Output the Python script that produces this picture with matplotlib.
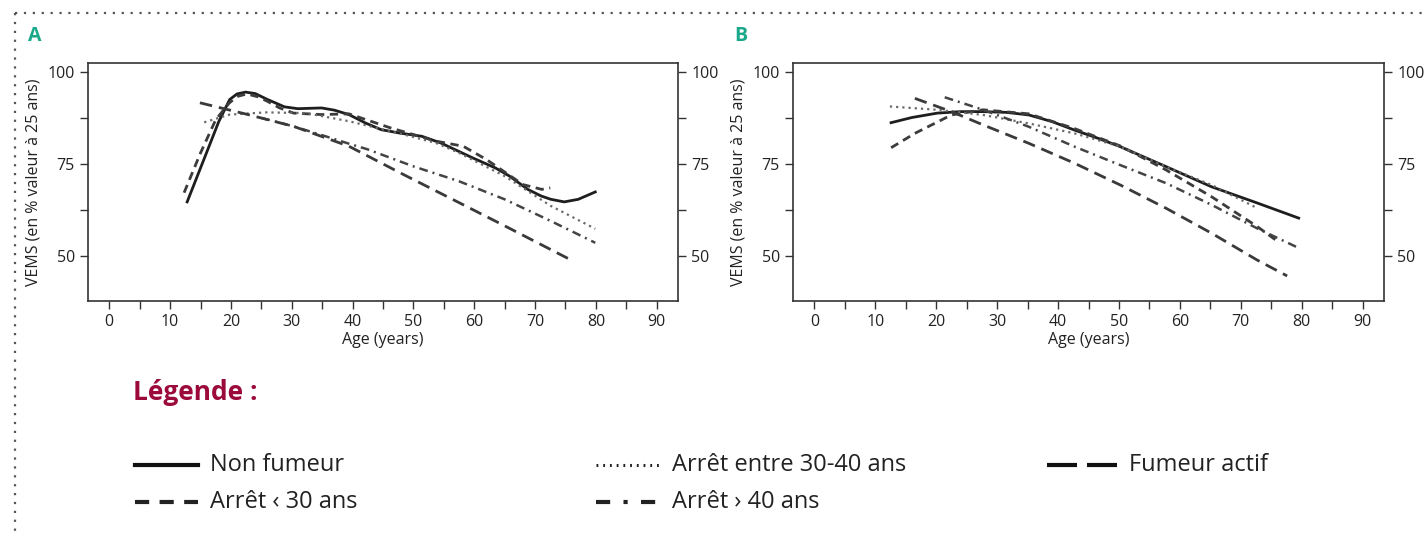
import numpy as np
import matplotlib
matplotlib.use("Agg")
import matplotlib.pyplot as plt
from matplotlib.lines import Line2D

plt.rcParams['font.family'] = ['Open Sans', 'DejaVu Sans']

# Panel A
a_non_x = [12.8, 15.5, 18.0, 19.8, 21.0, 22.4, 24.0, 26.0, 28.8, 31.0, 34.9, 37.0, 39.4, 42.0, 44.7, 47.7, 51.4, 54.5, 59.8, 63.5, 65.8, 68.8, 71.0, 72.6, 74.8, 77.1, 79.9]
a_non_y = [64.7, 76.0, 86.5, 92.5, 94.0, 94.5, 94.1, 92.5, 90.5, 90.0, 90.2, 89.6, 88.4, 86.2, 84.3, 83.4, 82.5, 80.7, 76.6, 73.9, 71.7, 68.1, 66.3, 65.4, 64.7, 65.4, 67.4]
a_30_x = [12.3, 15.0, 17.5, 19.7, 21.0, 22.6, 24.5, 26.0, 28.0, 30.3, 34.9, 39.4, 46.2, 53.7, 58.2, 62.0, 65.2, 68.0, 71.1, 72.5]
a_30_y = [67.2, 78.0, 87.0, 91.5, 93.3, 94.0, 93.2, 92.0, 90.2, 88.8, 88.4, 88.6, 84.8, 81.2, 79.8, 76.2, 72.6, 69.4, 68.1, 68.5]
a_3040_x = [15.6, 19.8, 25.8, 32.3, 39.4, 48.4, 53.7, 57.5, 65.0, 72.6, 79.9]
a_3040_y = [86.3, 88.4, 89.0, 88.8, 86.6, 83.0, 80.7, 78.0, 71.7, 63.6, 57.4]
a_40_x = [25.0, 30.3, 35.0, 39.4, 42.4, 49.9, 57.5, 65.0, 72.6, 79.9]
a_40_y = [87.5, 85.2, 82.8, 80.5, 79.0, 74.4, 70.3, 65.4, 59.5, 53.6]
a_act_x = [14.9, 22.8, 30.3, 39.4, 48.4, 57.5, 65.0, 76.3]
a_act_y = [91.6, 88.4, 85.2, 79.8, 72.1, 64.5, 58.2, 48.6]

# Panel B
b_non_x = [12.6, 16.0, 20.2, 24.0, 27.7, 31.5, 35.2, 39.0, 42.7, 46.5, 50.2, 57.7, 65.2, 72.7, 79.5]
b_non_y = [86.2, 87.6, 88.8, 89.2, 89.2, 89.0, 88.3, 86.5, 84.2, 82.0, 79.7, 74.3, 68.8, 64.4, 60.3]
b_30_x = [12.6, 16.5, 22.5, 27.7, 35.2, 42.7, 50.2, 57.7, 65.2, 72.7, 75.7]
b_30_y = [79.4, 83.3, 88.3, 89.7, 88.6, 84.6, 79.9, 73.4, 66.1, 58.0, 54.4]
b_3040_x = [12.4, 20.2, 27.7, 35.2, 42.7, 50.2, 57.7, 65.2, 72.7]
b_3040_y = [90.6, 89.7, 88.3, 86.0, 83.3, 79.7, 74.3, 69.3, 63.0]
b_40_x = [21.4, 27.7, 35.2, 42.7, 50.2, 57.7, 65.2, 72.7, 79.1]
b_40_y = [93.1, 89.7, 85.1, 79.7, 74.7, 69.8, 63.9, 57.5, 52.5]
b_act_x = [16.5, 22.5, 27.7, 35.2, 42.7, 50.2, 57.7, 65.2, 72.7, 77.6]
b_act_y = [92.8, 89.2, 85.6, 80.6, 75.2, 69.3, 63.0, 56.2, 48.9, 44.6]

labels = ["Non fumeur", "Arrêt ‹ 30 ans", "Arrêt entre 30-40 ans", "Arrêt › 40 ans", "Fumeur actif"]

styles = {
    "non": dict(color="#1e1e1e", lw=2.0, ls="-"),
    "30": dict(color="#3c3c3c", lw=2.0, ls=(0, (3, 2))),
    "3040": dict(color="#6a6a6a", lw=1.6, ls=(0, (1, 1.8))),
    "40": dict(color="#444444", lw=1.8, ls=(0, (3.5, 2, 0.8, 2))),
    "act": dict(color="#3a3a3a", lw=2.0, ls=(0, (4.5, 2.5))),
}

fig = plt.figure(figsize=(14.26, 5.36), dpi=100)
W, H = 1426, 536


def setup(ax):
    ax.set_xlim(-3.5, 93.5)
    ax.set_ylim(37.8, 102.4)
    ax.set_xticks(np.arange(0, 91, 10))
    ax.set_xticks(np.arange(5, 91, 10), minor=True)
    ax.set_yticks([50, 75, 100])
    ax.set_yticks([62.5, 87.5], minor=True)
    ax.tick_params(which='both', direction='out', length=6, width=1, colors='#333333',
                   labelsize=11.5, labelcolor='#222222', right=True, labelright=True)
    ax.tick_params(axis='x', pad=3)
    for s in ax.spines.values():
        s.set_color('#333333')
        s.set_linewidth(1.2)
    ax.set_xlabel("Age (years)", fontsize=11.5, color='#222222', labelpad=2)
    ax.set_ylabel("VEMS (en % valeur à 25 ans)", fontsize=11.5, color='#222222', labelpad=4)


axA = fig.add_axes([88 / W, 1 - 301 / H, 590 / W, 238 / H])
setup(axA)
for key, xs, ys in [("non", a_non_x, a_non_y), ("30", a_30_x, a_30_y), ("3040", a_3040_x, a_3040_y),
                    ("40", a_40_x, a_40_y), ("act", a_act_x, a_act_y)]:
    axA.plot(xs, ys, **styles[key])

axB = fig.add_axes([793 / W, 1 - 301 / H, 591 / W, 238 / H])
setup(axB)
for key, xs, ys in [("non", b_non_x, b_non_y), ("30", b_30_x, b_30_y), ("3040", b_3040_x, b_3040_y),
                    ("40", b_40_x, b_40_y), ("act", b_act_x, b_act_y)]:
    axB.plot(xs, ys, **styles[key])

# panel letters
fig.text(28 / W, 1 - 36 / H, "A", color="#1aa88a", fontsize=14, fontweight='bold', va='center')
fig.text(734 / W, 1 - 36 / H, "B", color="#1aa88a", fontsize=14, fontweight='bold', va='center')

# dotted frame
fig.add_artist(Line2D([15 / W, 1], [1 - 13 / H, 1 - 13 / H], color="#555555", lw=1.6, ls=(0, (1, 3))))
fig.add_artist(Line2D([15 / W, 15 / W], [1 - 13 / H, 0], color="#555555", lw=1.6, ls=(0, (1, 3))))

# legend
fig.text(133 / W, 1 - 393 / H, "Légende :", color="#9b0a3a", fontsize=19, fontweight='bold', va='center')

leg_styles = [
    dict(color="#111111", lw=3, ls="-"),
    dict(color="#222222", lw=3, ls=(0, (3.4, 2.5))),
    dict(color="#222222", lw=2.2, ls=(0, (0.6, 1.6))),
    dict(color="#222222", lw=3, ls=(0, (3.4, 3.2, 1, 3.2))),
    dict(color="#111111", lw=3, ls=(0, (7.2, 2.4))),
]
leg_pos = [(135, 198, 465), (135, 198, 502), (596, 660, 465), (596, 660, 502), (1047, 1117, 465)]
for lab, st, (x0, x1, yy) in zip(labels, leg_styles, leg_pos):
    fig.add_artist(Line2D([x0 / W, x1 / W], [1 - yy / H, 1 - yy / H], **st))
    fig.text((x1 + 12) / W, 1 - yy / H, lab, fontsize=17, color="#222222", va='center')

fig.savefig("out.png", dpi=100)
